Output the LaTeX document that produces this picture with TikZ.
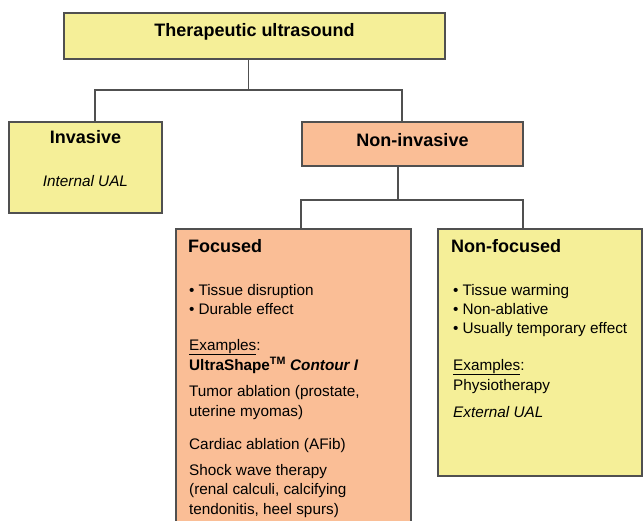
\documentclass[tikz,border=0pt]{standalone}
\usepackage{fontspec}
\setmainfont{Liberation Sans}
\usetikzlibrary{positioning}
\definecolor{boxyellow}{RGB}{245,239,152}
\definecolor{boxpeach}{RGB}{250,190,150}
\definecolor{boxline}{RGB}{80,80,80}
\begin{document}
\begin{tikzpicture}[
  x=1pt, y=-1pt,
  box/.style={draw=boxline, line width=1.2pt, outer sep=0pt, inner sep=0pt, anchor=north west},
  yellowbox/.style={box, fill=boxyellow},
  peachbox/.style={box, fill=boxpeach},
  title/.style={inner sep=0pt, anchor=base, font=\fontsize{18}{21}\selectfont\bfseries},
  body/.style={inner sep=0pt, align=left, anchor=north west, font=\fontsize{15.3}{19}\selectfont},
  line/.style={draw=boxline, line width=1.5pt}
]
\clip (0,0) rectangle (643,521);
% boxes
\node[yellowbox, minimum width=381pt, minimum height=46pt] (root) at (64,13) {};
\node[yellowbox, minimum width=153pt, minimum height=91pt] (inv) at (9,122) {};
\node[peachbox, minimum width=221pt, minimum height=44pt] (noninv) at (302,122) {};
\node[peachbox, minimum width=235pt, minimum height=320pt] (focused) at (176,229) {};
\node[yellowbox, minimum width=204pt, minimum height=247pt] (nonfocused) at (438,229) {};

% texts
\node[title] (roottxt) at ([yshift=-24pt]root.north) {Therapeutic ultrasound};
\node[title] (invtxt) at ([yshift=-22pt]inv.north) {Invasive};
\node[body, anchor=base, font=\fontsize{15.3}{19}\selectfont\itshape] (invex) at ([yshift=-65pt]inv.north) {Internal UAL};
\node[title] (noninvtxt) at ([yshift=-25pt]noninv.north) {Non-invasive};

\node[title, anchor=base west] (focusedtxt) at ([xshift=12pt,yshift=-24pt]focused.north west) {Focused};
\node[body] (focusedlist) at ([xshift=13pt,yshift=-54.8pt]focused.north west) {\textbullet\hspace{4pt}Tissue disruption\\
\textbullet\hspace{4pt}Durable effect\\[17pt]
\underline{Examples}:\\[1pt]
\textbf{UltraShape\textsuperscript{TM} \textit{Contour I}}\\[7pt]
Tumor ablation (prostate,\\[1pt]
uterine myomas)\\[14pt]
Cardiac ablation (AFib)\\[7pt]
Shock wave therapy\\
(renal calculi, calcifying\\[1pt]
tendonitis, heel spurs)};

\node[title, anchor=base west] (nonfocusedtxt) at ([xshift=13pt,yshift=-24pt]nonfocused.north west) {Non-focused};
\node[body] (nonfocusedlist) at ([xshift=15pt,yshift=-54.8pt]nonfocused.north west) {\textbullet\hspace{4pt}Tissue warming\\
\textbullet\hspace{4pt}Non-ablative\\
\textbullet\hspace{4pt}Usually temporary effect\\[18pt]
\underline{Examples}:\\[1pt]
Physiotherapy\\[8pt]
\textit{External UAL}};

% connectors
\draw[line] ([xshift=-6pt]root.south) -- ++(0,31) coordinate (split1) -| ([xshift=9.5pt]inv.north);
\draw[line] (split1) -| ([xshift=-10.5pt]noninv.north);
\draw[line] ([xshift=-14.5pt]noninv.south) -- ++(0,34) coordinate (split2) -| ([xshift=7.5pt]focused.north);
\draw[line] (split2) -| ([xshift=-17pt]nonfocused.north);
\end{tikzpicture}
\end{document}
